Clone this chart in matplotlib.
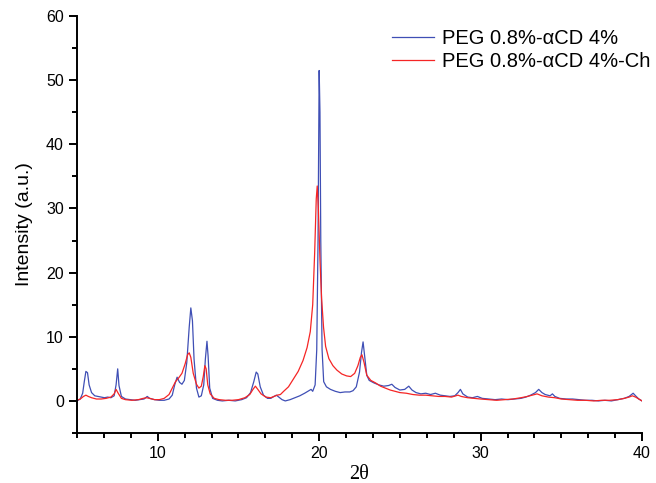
import matplotlib
matplotlib.use('Agg')
import matplotlib.pyplot as plt
from matplotlib.ticker import MultipleLocator, AutoMinorLocator

plt.rcParams['font.family'] = ['Liberation Sans', 'DejaVu Sans']

# PEG 0.8%-aCD 4%  (blue)
x_blue = [5.0, 5.2, 5.35, 5.45, 5.55, 5.65, 5.75, 5.9, 6.1, 6.3, 6.5, 6.7, 6.9, 7.1, 7.3, 7.42, 7.52, 7.6, 7.75,
          8.0, 8.3, 8.6, 8.9, 9.15, 9.35, 9.5, 9.8, 10.1, 10.4, 10.7, 10.9, 11.05, 11.2, 11.35, 11.5, 11.65, 11.8,
          11.95, 12.05, 12.15, 12.25, 12.4, 12.55, 12.7, 12.85, 12.95, 13.05, 13.12, 13.22, 13.4, 13.7, 14.0, 14.4,
          14.8, 15.2, 15.5, 15.75, 15.95, 16.1, 16.2, 16.35, 16.55, 16.8, 17.0, 17.2, 17.35, 17.5, 17.7, 17.9, 18.2,
          18.5, 18.8, 19.1, 19.3, 19.5, 19.6, 19.75, 19.85, 19.93, 20.0, 20.05, 20.1, 20.18, 20.28, 20.45, 20.7,
          21.0, 21.3, 21.6, 21.9, 22.1, 22.3, 22.5, 22.62, 22.72, 22.82, 22.95, 23.1, 23.4, 23.7, 24.0, 24.3, 24.5,
          24.7, 25.0, 25.3, 25.55, 25.75, 26.0, 26.3, 26.6, 26.9, 27.2, 27.5, 27.8, 28.1, 28.4, 28.6, 28.75, 28.9,
          29.2, 29.5, 29.8, 30.1, 30.5, 30.9, 31.3, 31.7, 32.1, 32.5, 32.8, 33.1, 33.4, 33.6, 33.8, 34.0, 34.3,
          34.45, 34.6, 34.9, 35.3, 35.7, 36.1, 36.5, 36.9, 37.3, 37.7, 38.1, 38.5, 38.9, 39.2, 39.45, 39.6, 39.8, 40.0]
y_blue = [0.0, 0.3, 1.2, 3.0, 4.6, 4.4, 2.5, 1.3, 0.8, 0.7, 0.6, 0.5, 0.6, 0.5, 0.8, 2.5, 5.0, 2.4, 0.7,
          0.3, 0.2, 0.1, 0.2, 0.3, 0.7, 0.4, 0.2, 0.1, 0.1, 0.3, 0.9, 2.5, 3.7, 2.9, 2.6, 3.2, 6.0,
          11.5, 14.5, 12.5, 6.5, 2.0, 0.6, 0.8, 2.5, 6.5, 9.3, 7.0, 2.0, 0.4, 0.1, 0.0, 0.1,
          0.0, 0.2, 0.5, 1.3, 3.0, 4.5, 4.2, 2.2, 0.9, 0.4, 0.4, 0.7, 0.9, 0.6, 0.2, 0.0, 0.2,
          0.5, 0.8, 1.2, 1.5, 1.8, 1.5, 2.5, 8.0, 25.0, 51.5, 45.0, 25.0, 8.0, 3.0, 2.2, 1.8,
          1.5, 1.3, 1.4, 1.4, 1.6, 2.2, 4.5, 7.5, 9.2, 7.0, 4.0, 3.2, 2.8, 2.5, 2.3, 2.4, 2.6,
          2.1, 1.7, 1.8, 2.3, 1.7, 1.3, 1.1, 1.2, 1.0, 1.2, 0.9, 0.8, 0.7, 0.8, 1.3, 1.8, 1.1,
          0.6, 0.5, 0.7, 0.4, 0.3, 0.2, 0.3, 0.2, 0.3, 0.4, 0.6, 0.9, 1.3, 1.8, 1.3, 1.0, 0.8,
          1.1, 0.7, 0.4, 0.3, 0.3, 0.2, 0.1, 0.1, 0.0, 0.1, 0.0, 0.2, 0.4, 0.7, 1.2, 0.8, 0.3, 0.0]

# PEG 0.8%-aCD 4%-Ch  (red)
x_red = [5.0, 5.2, 5.4, 5.55, 5.7, 5.9, 6.2, 6.5, 6.8, 7.1, 7.3, 7.42, 7.55, 7.75, 8.0, 8.4, 8.8, 9.1, 9.3,
         9.5, 9.8, 10.1, 10.4, 10.7, 10.9, 11.1, 11.3, 11.5, 11.7, 11.85, 11.95, 12.05, 12.2, 12.4, 12.55, 12.7,
         12.82, 12.92, 13.0, 13.1, 13.25, 13.5, 13.8, 14.2, 14.6, 15.0, 15.4, 15.7, 15.9, 16.05, 16.2, 16.4, 16.7,
         17.0, 17.2, 17.4, 17.6, 17.8, 18.1, 18.4, 18.7, 19.0, 19.25, 19.45, 19.6, 19.72, 19.82, 19.88, 19.95,
         20.05, 20.15, 20.27, 20.4, 20.6, 20.85, 21.1, 21.4, 21.7, 21.95, 22.2, 22.4, 22.55, 22.65, 22.78, 22.95,
         23.2, 23.5, 23.8, 24.1, 24.4, 24.7, 25.0, 25.4, 25.8, 26.2, 26.6, 27.0, 27.4, 27.8, 28.2, 28.6, 28.8,
         29.2, 29.6, 30.0, 30.5, 31.0, 31.5, 32.0, 32.5, 32.9, 33.2, 33.5, 33.8, 34.2, 34.6, 35.0, 35.5, 36.0,
         36.5, 37.0, 37.5, 38.0, 38.5, 38.9, 39.2, 39.4, 39.6, 39.8, 40.0]
y_red = [0.1, 0.3, 0.7, 0.9, 0.7, 0.5, 0.3, 0.3, 0.4, 0.6, 1.1, 1.8, 1.2, 0.4, 0.2, 0.1, 0.2, 0.4, 0.5,
         0.4, 0.2, 0.2, 0.4, 1.0, 2.0, 3.0, 3.6, 4.3, 5.8, 7.2, 7.5, 6.8, 4.3, 2.6, 2.0, 2.3,
         3.8, 5.5, 5.0, 2.5, 1.1, 0.4, 0.2, 0.1, 0.1, 0.2, 0.5, 1.0, 1.8, 2.3, 1.8, 1.1, 0.6,
         0.5, 0.7, 0.9, 1.0, 1.5, 2.2, 3.4, 4.6, 6.3, 8.3, 10.8, 15.0, 23.0, 31.5, 33.5, 30.0,
         22.0, 16.0, 11.5, 8.5, 6.6, 5.5, 4.8, 4.2, 3.9, 3.8, 4.3, 5.5, 6.8, 7.2, 6.0, 4.0,
         3.2, 2.8, 2.3, 2.0, 1.7, 1.5, 1.3, 1.2, 1.0, 0.9, 0.9, 0.8, 0.7, 0.7, 0.6, 0.9, 0.7,
         0.5, 0.4, 0.3, 0.2, 0.1, 0.2, 0.3, 0.5, 0.7, 0.9, 1.1, 0.8, 0.6, 0.5, 0.3, 0.2, 0.1,
         0.1, 0.0, 0.1, 0.1, 0.2, 0.4, 0.6, 0.8, 0.6, 0.3, 0.0]

fig = plt.figure(figsize=(6.56, 4.83), dpi=100)
ax = fig.add_axes([0.1174, 0.1035, 0.8613, 0.8634])

ax.plot(x_blue, y_blue, color='#3f4fb5', lw=0.9, label='PEG 0.8%-\u03b1CD 4%')
ax.plot(x_red, y_red, color='#f52525', lw=0.9, label='PEG 0.8%-\u03b1CD 4%-Ch')

ax.set_xlim(5, 40)
ax.set_ylim(-5, 60)
ax.xaxis.set_major_locator(MultipleLocator(10))
ax.xaxis.set_minor_locator(AutoMinorLocator(6))
ax.yaxis.set_major_locator(MultipleLocator(10))
ax.yaxis.set_minor_locator(MultipleLocator(5))

ax.spines['top'].set_visible(False)
ax.spines['right'].set_visible(False)
ax.spines['left'].set_linewidth(1.4)
ax.spines['bottom'].set_linewidth(1.4)
ax.tick_params(which='major', direction='out', length=6, width=1.4, labelsize=11.5, pad=3.5)
ax.tick_params(which='minor', direction='out', length=3.8, width=1.4)

ax.set_ylabel('Intensity (a.u.)', fontsize=14, labelpad=9)
ax.set_xlabel('2\u03b8', fontsize=14.5, family=['Liberation Serif', 'DejaVu Serif'], labelpad=3)

# legend sits partly outside the axes, right next to the figure edge
ax.legend(loc='upper left', bbox_to_anchor=(392 / 656, 1 - 29 / 483), bbox_transform=fig.transFigure,
          frameon=False, fontsize=14.5, handlelength=2.1, handletextpad=0.4, labelspacing=0.2,
          borderpad=0, borderaxespad=0)

fig.savefig('out.png', dpi=100)
